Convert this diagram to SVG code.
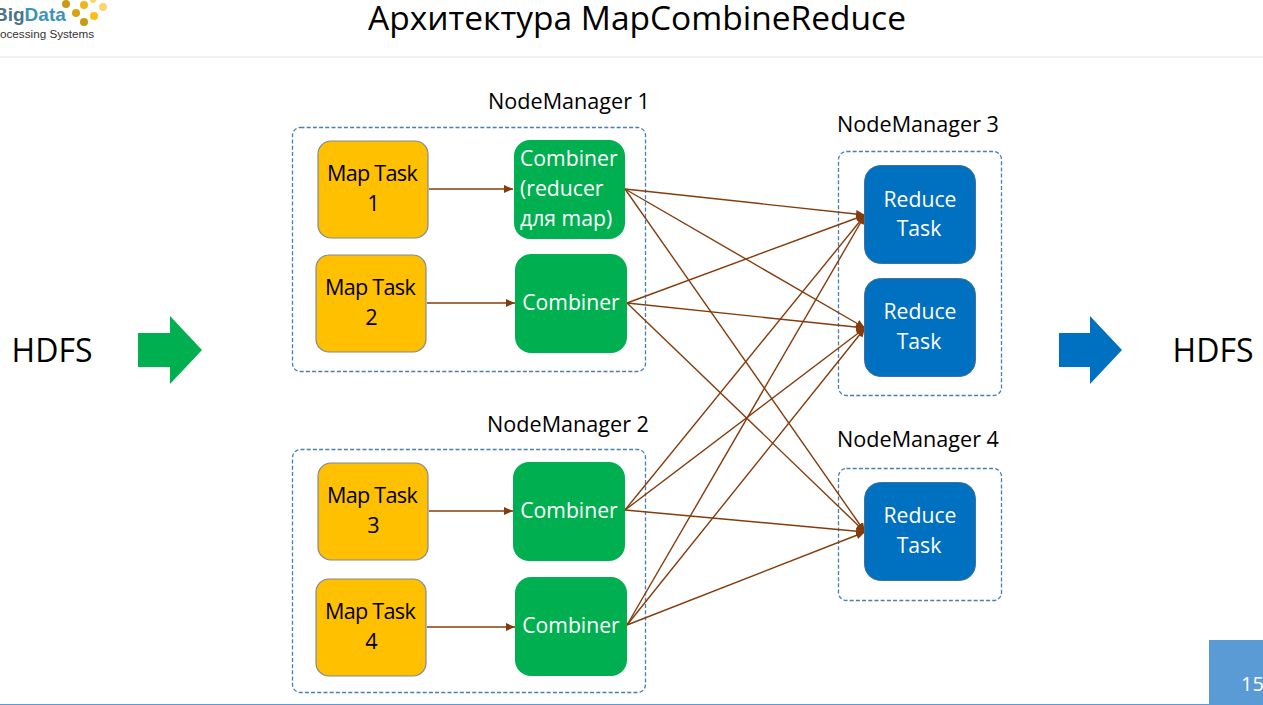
<svg xmlns="http://www.w3.org/2000/svg" width="1263" height="705" viewBox="0 0 1263 705">
<defs>
<marker id="ah" markerUnits="userSpaceOnUse" markerWidth="10" markerHeight="9" refX="9" refY="4.500" orient="auto"><path d="M0,0.500L9,4.500L0,8.500Z" fill="#843c0c"/></marker>
</defs>
<style>
text{font-family:"Open Sans","Noto Sans","Liberation Sans",sans-serif;text-anchor:middle}
.t{font-size:21.6px;letter-spacing:-0.7px;fill:#000}
.w{font-size:21.2px;fill:#fff}
.nm{font-size:21.6px;fill:#000}
.box{fill:#fff;stroke:#4a7eab;stroke-width:1.3;stroke-dasharray:4 2.2}
.map{fill:#ffc000;stroke:#7f8a96;stroke-width:1.2}
.cmb{fill:#00b050}
.red{fill:#0070c0;stroke:#41719c;stroke-width:1}
#connectors path{fill:none;stroke:#843c0c;stroke-width:1.4;marker-end:url(#ah)}
</style>
<rect width="1263" height="705" fill="#fff"/>
<g id="logo">
<text x="-6" y="21" style="text-anchor:start;font-family:'Liberation Sans',sans-serif;font-weight:bold;font-size:19px" fill="#3c93b8"><tspan fill="#4d7487">Big</tspan>Data</text>
<text x="0" y="38" style="text-anchor:start;font-family:'Liberation Sans',sans-serif;font-size:11.7px" fill="#333">ocessing Systems</text>
<circle cx="66" cy="4" r="4" fill="#c99a14"/><circle cx="84" cy="5" r="4" fill="#f0b41e"/><circle cx="103" cy="7" r="4" fill="#fbd56b"/><circle cx="76" cy="13" r="4" fill="#d6a314"/><circle cx="94" cy="16" r="4" fill="#fdbd14"/><circle cx="84" cy="22" r="4" fill="#c99a14"/><circle cx="93" cy="0" r="3" fill="#fbd56b"/>
</g>
<text x="637" y="30" style="font-size:33.5px" fill="#000">Архитектура MapCombineReduce</text>
<rect x="0" y="56" width="1263" height="2" fill="#f2f2f2"/>
<g id="hdfs-in"><text x="52" y="362" style="font-size:32px" fill="#000">HDFS</text></g>
<path id="arrow-in" d="M138,333H170V316L202,350L170,384V367H138Z" fill="#00b050"/>
<g id="hdfs-out"><text x="1213" y="362" style="font-size:32px" fill="#000">HDFS</text></g>
<path id="arrow-out" d="M1059,333H1090V316L1122,350L1090,384V367H1059Z" fill="#0070c0"/>
<g id="nm1"><rect class="box" x="292.500" y="127.500" width="353" height="244" rx="8"/><text class="nm" x="569" y="109">NodeManager 1</text></g>
<g id="nm2"><rect class="box" x="292.500" y="449.500" width="353" height="243" rx="8"/><text class="nm" x="568" y="432">NodeManager 2</text></g>
<g id="nm3"><rect class="box" x="838.500" y="151.500" width="163" height="244" rx="8"/><text class="nm" x="918" y="132">NodeManager 3</text></g>
<g id="nm4"><rect class="box" x="838.500" y="468.500" width="163" height="132" rx="8"/><text class="nm" x="918" y="447">NodeManager 4</text></g>
<g id="connectors">
<path d="M429,189H513"/><path d="M427,303H515"/><path d="M429,511H513"/><path d="M427,627H515"/>
<path d="M625,189L865,215"/><path d="M625,189L865,328"/><path d="M625,189L865,532"/>
<path d="M627,303L865,215"/><path d="M627,303L865,328"/><path d="M627,303L865,532"/>
<path d="M625,510L865,215"/><path d="M625,510L865,328"/><path d="M625,510L865,532"/>
<path d="M627,625L865,215"/><path d="M627,625L865,328"/><path d="M627,625L865,532"/>
</g>
<g id="map1"><rect class="map" x="318" y="141" width="110" height="97" rx="13"/><text class="t" x="372" y="181">Map Task</text><text class="t" x="373" y="211">1</text></g>
<g id="map2"><rect class="map" x="316" y="255" width="110" height="97" rx="13"/><text class="t" x="370" y="295">Map Task</text><text class="t" x="371" y="325">2</text></g>
<g id="map3"><rect class="map" x="318" y="463" width="110" height="97" rx="13"/><text class="t" x="372" y="503">Map Task</text><text class="t" x="373" y="533">3</text></g>
<g id="map4"><rect class="map" x="316" y="579" width="110" height="97" rx="13"/><text class="t" x="370" y="619">Map Task</text><text class="t" x="371" y="649">4</text></g>
<g id="combiner1"><rect class="cmb" x="514" y="140" width="111" height="99" rx="16"/><text class="w" x="520" y="166" style="text-anchor:start">Combiner</text><text class="w" x="520" y="196" style="text-anchor:start">(reducer</text><text class="w" x="520" y="226" style="text-anchor:start">для map)</text></g>
<g id="combiner2"><rect class="cmb" x="515" y="254" width="112" height="99" rx="16"/><text class="w" x="571" y="310">Combiner</text></g>
<g id="combiner3"><rect class="cmb" x="513" y="462" width="112" height="99" rx="16"/><text class="w" x="569" y="518">Combiner</text></g>
<g id="combiner4"><rect class="cmb" x="515" y="577" width="112" height="99" rx="16"/><text class="w" x="571" y="633">Combiner</text></g>
<g id="reduce1"><rect class="red" x="864.500" y="165.500" width="111" height="98" rx="16"/><text class="w" x="920" y="207">Reduce</text><text class="w" x="919" y="236">Task</text></g>
<g id="reduce2"><rect class="red" x="864.500" y="278.500" width="111" height="98" rx="16"/><text class="w" x="920" y="319">Reduce</text><text class="w" x="919" y="349">Task</text></g>
<g id="reduce3"><rect class="red" x="864.500" y="482.500" width="111" height="98" rx="16"/><text class="w" x="920" y="523">Reduce</text><text class="w" x="919" y="553">Task</text></g>
<rect x="0" y="704" width="1263" height="1" fill="#5b9bd5"/>
<rect x="1209" y="640" width="54" height="65" fill="#5b9bd5"/>
<text x="1241" y="691" style="text-anchor:start;font-size:20px" fill="#fff">15</text>
</svg>
